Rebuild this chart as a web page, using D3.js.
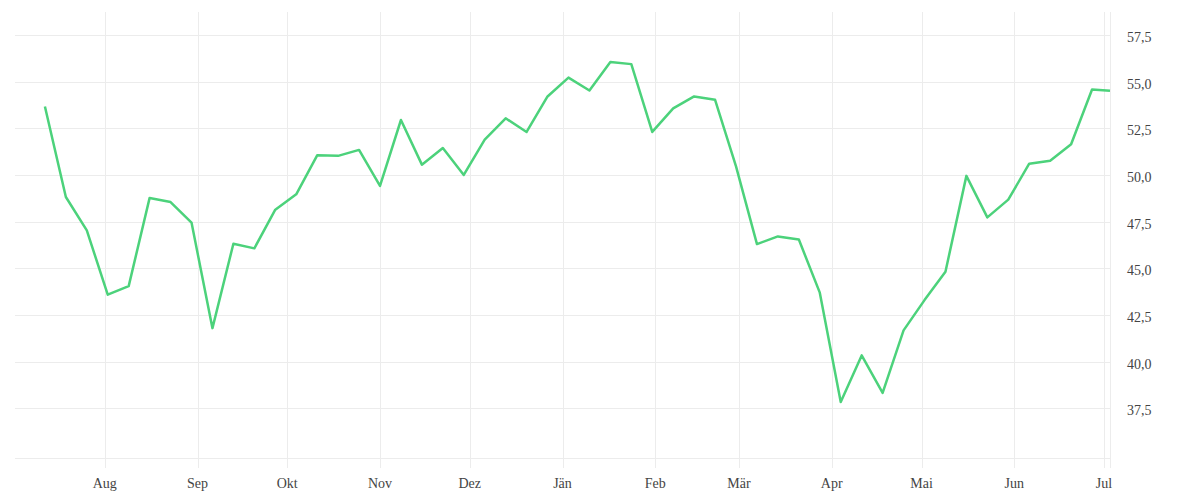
<!DOCTYPE html>
<html>
<head>
<meta charset="utf-8">
<script src="https://cdn.jsdelivr.net/npm/d3@7"></script>
<style>
  html, body { margin: 0; padding: 0; background: #fff; }
  svg { display: block; }
  text { font-family: "Liberation Serif", "DejaVu Serif", serif; fill: #444; }
</style>
</head>
<body>
<svg id="chart" width="1200" height="500"></svg>
<script>
// ---- data ----
const dates = [
  "2022-07-12","2022-07-19","2022-07-26","2022-08-02","2022-08-09","2022-08-16","2022-08-23","2022-08-30",
  "2022-09-06","2022-09-13","2022-09-20","2022-09-27","2022-10-04","2022-10-11","2022-10-18","2022-10-25",
  "2022-11-01","2022-11-08","2022-11-15","2022-11-22","2022-11-29","2022-12-06","2022-12-13","2022-12-20",
  "2022-12-27","2023-01-03","2023-01-10","2023-01-17","2023-01-24","2023-01-31","2023-02-07","2023-02-14",
  "2023-02-21","2023-02-28","2023-03-07","2023-03-14","2023-03-21","2023-03-28","2023-04-04","2023-04-11",
  "2023-04-18","2023-04-25","2023-05-02","2023-05-09","2023-05-16","2023-05-23","2023-05-30","2023-06-06",
  "2023-06-13","2023-06-20","2023-06-27","2023-07-03"
];
const values = [
  53.66, 48.82, 47.03, 43.59, 44.05, 48.77, 48.55, 47.45,
  41.80, 46.32, 46.07, 48.14, 48.96, 51.05, 51.02, 51.34,
  49.41, 52.94, 50.55, 51.44, 50.00, 51.89, 53.03, 52.30,
  54.20, 55.21, 54.52, 56.05, 55.93, 52.30, 53.56, 54.20,
  54.02, 50.46, 46.30, 46.71, 46.54, 43.70, 37.85, 40.34,
  38.33, 41.68, 43.30, 44.82, 49.95, 47.73, 48.68, 50.60,
  50.76, 51.64, 54.57, 54.50
];
const monthTicks = ["2022-08-01","2022-09-01","2022-10-01","2022-11-01","2022-12-01","2023-01-01",
  "2023-02-01","2023-03-01","2023-04-01","2023-05-01","2023-06-01","2023-07-01"];
const monthLabels = ["Aug","Sep","Okt","Nov","Dez","Jän","Feb","Mär","Apr","Mai","Jun","Jul"];
const yTicks = [37.5, 40, 42.5, 45, 47.5, 50, 52.5, 55, 57.5];
const xDomain = ["2022-07-02","2023-07-03"];
const yDomain = [34.85, 58.72];

// ---- chart ----
const parse = d3.utcParse("%Y-%m-%d");
const svg = d3.select("#chart");
const mLeft = 15, mRight = 1110, mTop = 12, mBottom = 458;

const x = d3.scaleUtc().domain(xDomain.map(parse)).range([mLeft, mRight]);
const y = d3.scaleLinear().domain(yDomain).range([mBottom, mTop]);

const locale = d3.formatLocale({decimal: ",", thousands: ".", grouping: [3], currency: ["", "€"]});
const fmt = locale.format(".1f");

const grid = svg.append("g").attr("stroke", "#ececec").attr("stroke-width", 1).attr("shape-rendering", "crispEdges");

// horizontal gridlines
grid.selectAll("line.h").data(yTicks).join("line")
  .attr("class", "h")
  .attr("x1", mLeft).attr("x2", mRight)
  .attr("y1", d => Math.round(y(d)) + 0.5).attr("y2", d => Math.round(y(d)) + 0.5);

// bottom baseline
grid.append("line")
  .attr("x1", mLeft).attr("x2", mRight)
  .attr("y1", mBottom + 0.5).attr("y2", mBottom + 0.5);

// vertical gridlines (month ticks)
const mt = monthTicks.map(parse);
grid.selectAll("line.v").data(mt).join("line")
  .attr("class", "v")
  .attr("x1", d => Math.round(x(d)) + 0.5).attr("x2", d => Math.round(x(d)) + 0.5)
  .attr("y1", mTop).attr("y2", mBottom + 10);

// right edge line
grid.append("line")
  .attr("x1", mRight + 0.5).attr("x2", mRight + 0.5)
  .attr("y1", mTop).attr("y2", mBottom + 10);

// x labels
svg.append("g").selectAll("text").data(mt).join("text")
  .attr("x", d => x(d))
  .attr("y", 488)
  .attr("text-anchor", "middle")
  .attr("font-size", 14)
  .text((d, i) => monthLabels[i]);

// y labels
svg.append("g").selectAll("text").data(yTicks).join("text")
  .attr("x", 1127)
  .attr("y", d => y(d) + 7)
  .attr("text-anchor", "start")
  .attr("font-size", 14)
  .text(d => fmt(d));

// line
const pts = dates.map((d, i) => ({date: parse(d), value: values[i]}));
svg.append("path")
  .datum(pts)
  .attr("fill", "none")
  .attr("stroke", "#4cd27b")
  .attr("stroke-width", 2.5)
  .attr("stroke-linejoin", "round")
  .attr("d", d3.line().x(d => x(d.date)).y(d => y(d.value)));
</script>
</body>
</html>
